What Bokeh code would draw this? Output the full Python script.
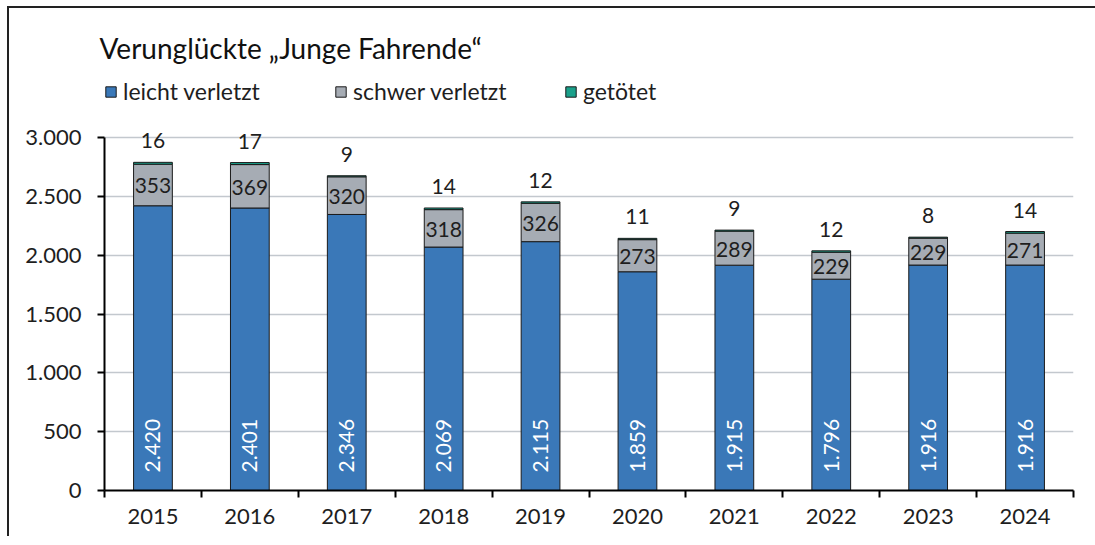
import math
from bokeh.plotting import figure
from bokeh.models import (ColumnDataSource, FixedTicker, Legend, LegendItem, Title, Range1d)
from bokeh.core.properties import value
from bokeh.embed import file_html
from bokeh.resources import INLINE

years = ["2015", "2016", "2017", "2018", "2019", "2020", "2021", "2022", "2023", "2024"]
leicht = [2420, 2401, 2346, 2069, 2115, 1859, 1915, 1796, 1916, 1916]
schwer = [353, 369, 320, 318, 326, 273, 289, 229, 229, 271]
getoetet = [16, 17, 9, 14, 12, 11, 9, 12, 8, 14]
series_names = ["leicht verletzt", "schwer verletzt", "getötet"]
y_ticks = [0, 500, 1000, 1500, 2000, 2500, 3000]

FONT = "Lato"
BLUE = "#3a78b8"
GRAY = "#a6acb4"
GREEN = "#1aa08a"
TXT = "#1e1e1e"

def de(n):
    return f"{n:,}".replace(",", ".")

xs = [i + 0.5 for i in range(len(years))]
src = ColumnDataSource(dict(
    x=xs, leicht=leicht, schwer=schwer, getoetet=getoetet,
    mid=[l + s / 2 for l, s in zip(leicht, schwer)],
    top=[l + s + g for l, s, g in zip(leicht, schwer, getoetet)],
    zero=[0] * len(years),
    l_txt=[de(v) for v in leicht],
    s_txt=[de(v) for v in schwer],
    g_txt=[de(v) for v in getoetet],
))

p = figure(width=1096, height=530, output_backend="svg", toolbar_location=None,
           x_range=Range1d(0, len(years)), y_range=Range1d(0, 3510),
           min_border_left=95, min_border_right=32, min_border_top=69, min_border_bottom=48)
p.styles = {"margin-left": "7px", "margin-top": "6px",
            "border-left": "2px solid #222", "border-top": "2px solid #222"}
p.outline_line_color = None
p.background_fill_color = "white"
p.border_fill_color = "white"

rs = p.vbar_stack(["leicht", "schwer", "getoetet"], x="x", width=0.4, source=src,
                  fill_color=[BLUE, GRAY, GREEN], line_color="#1a1a1a", line_width=1)

# labels
p.text(x="x", y="zero", text="l_txt", source=src, angle=math.pi / 2,
       text_align="left", text_baseline="middle", y_offset=-18,
       text_color="white", text_font=value(FONT), text_font_size="21px")
p.text(x="x", y="mid", text="s_txt", source=src,
       text_align="center", text_baseline="middle", y_offset=1,
       text_color=TXT, text_font=value(FONT), text_font_size="21px")
p.text(x="x", y="top", text="g_txt", source=src,
       text_align="center", text_baseline="bottom", y_offset=-14,
       text_color=TXT, text_font=value(FONT), text_font_size="21px")

# axes
p.xgrid.grid_line_color = None
p.ygrid.grid_line_color = "#c3c8ce"
p.ygrid.grid_line_width = 1.5
p.ygrid.ticker = FixedTicker(ticks=y_ticks)

p.yaxis.ticker = FixedTicker(ticks=y_ticks)
p.yaxis.bounds = (0, 3000)
p.yaxis.major_label_overrides = {t: de(t) for t in y_ticks}
p.yaxis.axis_line_width = 2
p.yaxis.axis_line_color = "black"
p.yaxis.major_tick_line_width = 2
p.yaxis.major_tick_line_color = "black"
p.yaxis.major_tick_in = 0
p.yaxis.major_tick_out = 7
p.yaxis.minor_tick_line_color = None
p.yaxis.major_label_text_font = FONT
p.yaxis.major_label_text_font_size = "22px"
p.yaxis.major_label_text_color = TXT
p.yaxis.major_label_standoff = 16

p.xaxis.ticker = FixedTicker(ticks=xs, minor_ticks=list(range(len(years) + 1)))
p.xaxis.major_label_overrides = {x: y for x, y in zip(xs, years)}
p.xaxis.axis_line_width = 2
p.xaxis.axis_line_color = "black"
p.xaxis.major_tick_line_color = None
p.xaxis.minor_tick_line_color = "black"
p.xaxis.minor_tick_line_width = 2
p.xaxis.minor_tick_in = 0
p.xaxis.minor_tick_out = 7
p.xaxis.major_label_text_font = FONT
p.xaxis.major_label_text_font_size = "22px"
p.xaxis.major_label_text_color = TXT
p.xaxis.major_label_standoff = 11

# legend at the top-left of the plotting area
legend = Legend(items=[LegendItem(label=n, renderers=[r]) for n, r in zip(series_names, rs)],
                orientation="horizontal", location="top_left",
                label_text_font=FONT, label_text_font_size="23px", label_text_color=TXT,
                glyph_width=13, glyph_height=13, label_standoff=6, label_width=203,
                label_height=20, spacing=8, padding=0, margin=0, border_line_color=None,
                background_fill_alpha=0)
p.add_layout(legend, "center")

title = Title(text="Verunglückte „Junge Fahrende“", align="left", offset=-5,
              text_font=FONT, text_font_size="28px", text_font_style="normal",
              text_color="#111111", standoff=25)
p.add_layout(title, "above")

html = file_html(p, INLINE)
html = html.replace("</head>", "<style>html, body { overflow: hidden !important; }</style>\n</head>", 1)
open("out.html", "w").write(html)
